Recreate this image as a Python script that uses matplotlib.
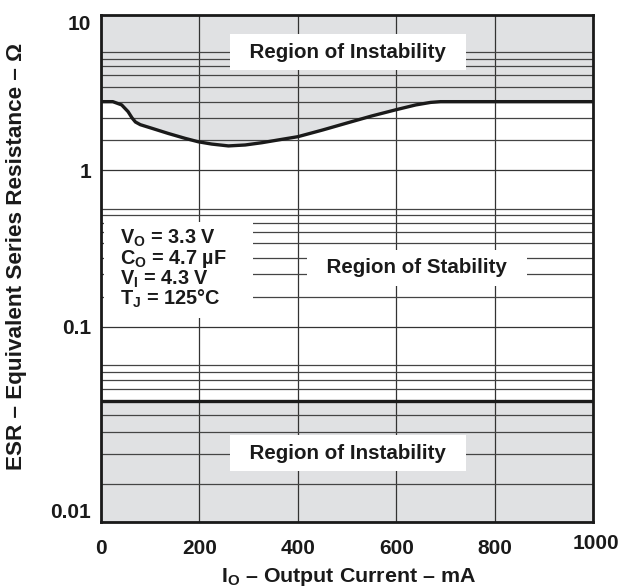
import numpy as np
import matplotlib
matplotlib.use("Agg")
import matplotlib.pyplot as plt
import matplotlib.transforms as mtransforms
from matplotlib.ticker import FixedLocator, FixedFormatter, NullFormatter
from matplotlib.patches import Rectangle

plt.rcParams['font.family'] = ['Liberation Sans', 'DejaVu Sans']
plt.rcParams['mathtext.fontset'] = 'custom'
plt.rcParams['mathtext.rm'] = 'Liberation Sans'
plt.rcParams['mathtext.bf'] = 'Liberation Sans:bold'
plt.rcParams['mathtext.it'] = 'Liberation Sans:italic'

# ---------------- data ----------------
# upper stability boundary (ESR max) vs output current
current_upper = [0, 24, 42, 55, 63, 70, 80, 103, 137, 171, 198, 225, 259, 293,
                 327, 364, 400, 450, 500, 550, 600, 640, 670, 690, 1000]
esr_upper = [2.76, 2.76, 2.63, 2.38, 2.17, 2.04, 1.96, 1.86, 1.72, 1.60, 1.52,
             1.47, 1.43, 1.45, 1.50, 1.57, 1.64, 1.81, 2.01, 2.23, 2.45, 2.63,
             2.73, 2.76, 2.76]
# lower stability boundary (ESR min)
current_lower = [0, 1000]
esr_lower = [0.0418, 0.0418]

x_ticks = [0, 200, 400, 600, 800, 1000]
x_tick_labels = ['0', '200', '400', '600', '800', '1000']
y_ticks = [0.01, 0.1, 1, 10]
y_tick_labels = ['0.01', '0.1', '1', '10']
# minor grid lines as drawn in the reference
y_minor_grid = [0.0157, 0.0223, 0.0290, 0.0353, 0.0480, 0.0533, 0.0584, 0.0637,
                0.155, 0.216, 0.273, 0.340, 0.404, 0.461, 0.516, 0.564,
                1.55, 2.18, 2.76, 3.42, 4.08, 4.67, 5.22, 5.80]

conditions = [r'$\mathbf{V}_{\mathbf{O}}$ = 3.3 V',
              r'$\mathbf{C}_{\mathbf{O}}$ = 4.7 µF',
              r'$\mathbf{V}_{\mathbf{I}}$ = 4.3 V',
              r'$\mathbf{T}_{\mathbf{J}}$ = 125°C']

# ---------------- scale (datasheet decades are not equal in height) ----------------
KL = np.array([-2.0, -1.0, 0.0, 1.0])
KP = np.array([0.0, 195.3, 352.0, 507.0])


def _pw(x, xs, ys):
    x = np.asarray(x, dtype=float)
    out = np.interp(x, xs, ys)
    s0 = (ys[1] - ys[0]) / (xs[1] - xs[0])
    s1 = (ys[-1] - ys[-2]) / (xs[-1] - xs[-2])
    out = np.where(x < xs[0], ys[0] + (x - xs[0]) * s0, out)
    out = np.where(x > xs[-1], ys[-1] + (x - xs[-1]) * s1, out)
    return out


def fwd(v):
    v = np.asarray(v, dtype=float)
    L = np.log10(np.clip(v, 1e-300, None))
    return _pw(L, KL, KP)


def inv(p):
    return 10.0 ** _pw(p, KP, KL)


W, H = 629, 588
fig = plt.figure(figsize=(W / 100, H / 100), dpi=100)
L0, R0, T0, B0 = 101, 593, 15, 522
ax = fig.add_axes([L0 / W, (H - B0) / H, (R0 - L0) / W, (B0 - T0) / H])
ax.set_yscale('function', functions=(fwd, inv))
ax.set_xlim(0, 1000)
ax.set_ylim(0.01, 10)

gray = '#e0e1e3'
ax.fill_between(current_upper, esr_upper, 10, color=gray, lw=0, zorder=0.2)
ax.fill_between(current_lower, 0.01, esr_lower, color=gray, lw=0, zorder=0.2)

ax.plot(current_upper, esr_upper, color='#1a1a1a', lw=2.4, zorder=2,
        solid_joinstyle='round', solid_capstyle='butt')
ax.plot(current_lower, esr_lower, color='#1a1a1a', lw=2.4, zorder=2)

ax.set_axisbelow(True)
ax.xaxis.set_major_locator(FixedLocator(x_ticks))
ax.xaxis.set_major_formatter(FixedFormatter(x_tick_labels))
ax.yaxis.set_major_locator(FixedLocator(y_ticks))
ax.yaxis.set_major_formatter(FixedFormatter(y_tick_labels))
ax.yaxis.set_minor_locator(FixedLocator(y_minor_grid))
ax.yaxis.set_minor_formatter(NullFormatter())
ax.grid(True, which='major', axis='both', color='#333333', lw=0.9)
ax.grid(True, which='minor', axis='y', color='#444444', lw=0.9)
ax.tick_params(which='both', length=0)
ax.tick_params(axis='x', pad=12, labelsize=15)
ax.tick_params(axis='y', pad=7, labelsize=15)
for lab in ax.get_xticklabels() + ax.get_yticklabels():
    lab.set_fontweight('bold')
    lab.set_color('#1a1a1a')
ylabs = ax.get_yticklabels()
ylabs[0].set_va('bottom')
ylabs[-1].set_va('top')
xlabs = ax.get_xticklabels()
xlabs[-1].set_transform(xlabs[-1].get_transform() +
                        mtransforms.ScaledTranslation(0.03, 0.05, fig.dpi_scale_trans))

for s in ax.spines.values():
    s.set_linewidth(2.0)
    s.set_color('#1a1a1a')
    s.set_zorder(5)

txt_kw = dict(fontsize=14.8, fontweight='bold', color='#1a1a1a', ha='center',
              va='center', transform=ax.transAxes, zorder=4)
box = dict(boxstyle='square,pad=0.42', fc='white', ec='none')
ax.text(0.502, 0.927, '  Region of Instability  ', bbox=box, **txt_kw)
ax.text(0.642, 0.501, '  Region of Stability  ', bbox=box, **txt_kw)
ax.text(0.502, 0.136, '  Region of Instability  ', bbox=box, **txt_kw)

ax.add_patch(Rectangle((0.006, 0.402), 0.303, 0.19, transform=ax.transAxes,
                       fc='white', ec='none', zorder=3))
line_y = [0.559, 0.5195, 0.4795, 0.4395]
for s, yy in zip(conditions, line_y):
    ax.text(0.038, yy, s, fontsize=14.3, fontweight='bold', color='#1a1a1a',
            ha='left', va='center', transform=ax.transAxes, zorder=4)

fig.text(17 / W, 1 - 256 / H, 'ESR – Equivalent Series Resistance – Ω',
         rotation=90, ha='center', va='center', fontsize=16.2,
         fontweight='bold', color='#1a1a1a')
fig.text(348 / W, 1 - 577 / H, r'$\mathbf{I}_{\mathbf{O}}$ – Output Current – mA',
         ha='center', va='center', fontsize=15.4, fontweight='bold',
         color='#1a1a1a')

fig.savefig('out.png', dpi=100)
